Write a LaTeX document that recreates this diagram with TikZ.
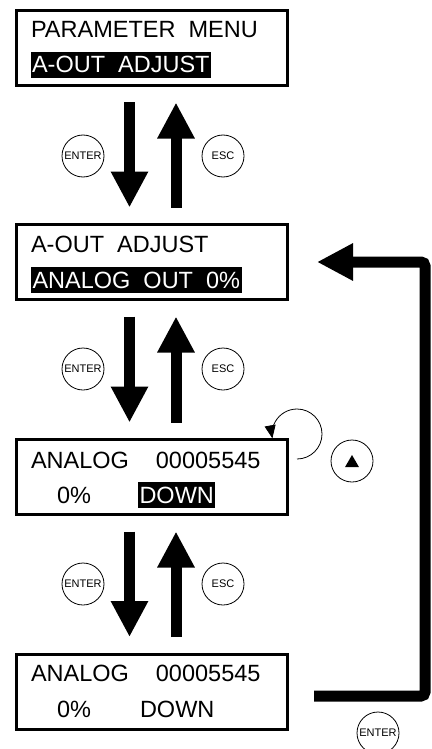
\documentclass[tikz,border=0pt]{standalone}
\usepackage{fontspec}
\setmainfont{Liberation Sans}
\usetikzlibrary{shapes.geometric, arrows.meta}

\tikzset{
	screen/.style={rectangle, draw, line width=3pt, minimum width=271pt, minimum height=75pt, inner sep=0pt, outer sep=0pt},
	lcd/.style={anchor=base west, inner sep=0pt, outer sep=0pt, font=\fontsize{23.5}{23.5}\selectfont},
	hilite/.style={lcd, fill=black, text=white, inner xsep=1.5pt, text height=21pt, text depth=5pt},
	key/.style={circle, draw, line width=0.8pt, minimum size=42pt, inner sep=0pt, font=\fontsize{11}{11}\selectfont},
	bigarrow/.style={line width=11pt, -{Triangle[width=35pt,length=36pt]}},
	stepflow/.style={bigarrow, shorten <=17pt, shorten >=17pt},
}

\begin{document}
\begin{tikzpicture}[x=1pt, y=-1pt]
	\useasboundingbox (0,0) rectangle (431,749);

	\begin{scope}[every node/.style={screen}]
		\node (b1) at (152,48) {};
		\node (b2) at (152,262) {};
		\node (b3) at (152,477) {};
		\node (b4) at (152,691.5) {};
	\end{scope}

	% screen texts
	\node[lcd] (t1a) at (31,38) {PARAMETER\ \ MENU};
	\node[hilite] (t1b) at (30.5,73) {A-OUT\ \ ADJUST};

	\node[lcd] (t2a) at (31,252) {A-OUT\ \ ADJUST};
	\node[hilite] (t2b) at (31,288) {ANALOG\ \ OUT\ \ 0\%};

	\node[lcd] (t3a) at (31,468) {ANALOG\hspace{27pt}00005545};
	\node[lcd] (t3b) at (57,503) {0\%};
	\node[hilite] (t3c) at (138,503) {DOWN};

	\node[lcd] (t4a) at (31,681) {ANALOG\hspace{27pt}00005545};
	\node[lcd] (t4b) at (57,717) {0\%};
	\node[lcd] (t4c) at (140,717) {DOWN};

	% keys
	\begin{scope}[every node/.style={key}]
		\node (enter1) at (83,156) {ENTER};
		\node (esc1) at (223,156) {ESC};
		\node (enter2) at (83,369) {ENTER};
		\node (esc2) at (223,369) {ESC};
		\node (enter3) at (83,584) {ENTER};
		\node (esc3) at (223,584) {ESC};
		\node (upkey) at (352,461) {};
		\node (enter4) at (378,733) {ENTER};
	\end{scope}
	\node[regular polygon, regular polygon sides=3, fill=black, minimum size=16pt, inner sep=0pt] (uptri) at (352,463) {};

	% flow
	\begin{scope}
		\draw[stepflow] ([xshift=-22.5pt]b1.south) -- ([xshift=-22.5pt]b2.north);
		\draw[stepflow] ([xshift=24pt]b2.north) -- ([xshift=24pt]b1.south);
		\draw[stepflow] ([xshift=-22.5pt]b2.south) -- ([xshift=-22.5pt]b3.north);
		\draw[stepflow] ([xshift=24pt]b3.north) -- ([xshift=24pt]b2.south);
		\draw[stepflow] ([xshift=-22.5pt]b3.south) -- ([xshift=-22.5pt]b4.north);
		\draw[stepflow] ([xshift=24pt]b4.north) -- ([xshift=24pt]b3.south);

		\coordinate (ret) at (425,262);
		\draw[bigarrow, rounded corners=4pt] ([xshift=26.5pt,yshift=-4.5pt]b4.east) -| (ret) -- ([xshift=29.5pt]b2.east);

		\draw[line width=0.8pt, -{Triangle[width=11pt,length=13pt]}] ([xshift=9.5pt,yshift=18pt]b3.east) arc[start angle=-90, end angle=190, radius=25pt];
	\end{scope}
\end{tikzpicture}
\end{document}
